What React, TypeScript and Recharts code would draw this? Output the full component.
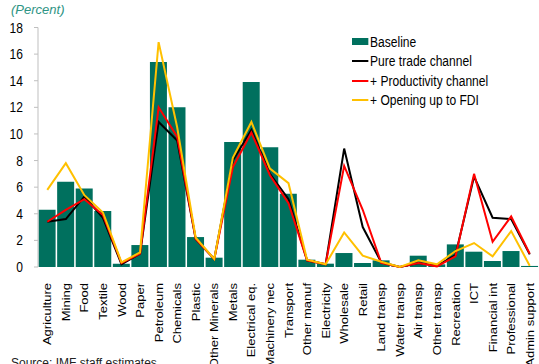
import React from 'react';
import { ComposedChart, Bar, Line, XAxis, YAxis } from 'recharts';

const sectors = [
  'Agriculture', 'Mining', 'Food', 'Textile', 'Wood', 'Paper', 'Petroleum', 'Chemicals',
  'Plastic', 'Other Minerals', 'Metals', 'Electrical eq.', 'Machinery nec', 'Transport',
  'Other manuf', 'Electricity', 'Wholesale', 'Retail', 'Land transp', 'Water transp',
  'Air transp', 'Other transp', 'Recreation', 'ICT', 'Financial int', 'Professional',
  'Admin support',
];

const baseline = [
  4.3, 6.4, 5.9, 4.2, 0.25, 1.65, 15.4, 12.0, 2.25, 0.7, 9.4, 13.9, 9.0, 5.5,
  0.55, 0.25, 1.05, 0.3, 0.5, 0.05, 0.85, 0.2, 1.7, 1.15, 0.45, 1.2, 0.08,
];
const pureTrade = [
  3.4, 3.6, 5.3, 3.7, 0.2, 1.0, 10.9, 9.5, 2.1, 0.6, 8.0, 10.3, 7.0, 5.1,
  0.5, 0.2, 8.9, 3.0, 0.35, 0.0, 0.3, 0.1, 0.9, 6.8, 3.7, 3.6, 0.95,
];
const productivity = [
  3.4, 4.3, 5.1, 3.9, 0.3, 1.0, 12.0, 9.8, 2.1, 0.6, 7.5, 10.1, 6.9, 4.8,
  0.5, 0.2, 7.6, 4.3, 0.3, 0.0, 0.3, 0.05, 0.8, 7.0, 1.9, 3.8, 1.0,
];
const openingFdi = [
  5.8, 7.8, 5.4, 4.1, 0.35, 1.1, 16.9, 10.5, 2.2, 0.6, 8.2, 10.9, 7.4, 6.3,
  0.55, 0.2, 2.6, 0.85, 0.4, 0.0, 0.5, 0.2, 1.2, 1.8, 0.8, 2.7, 0.1,
];
const yTicks = [0, 2, 4, 6, 8, 10, 12, 14, 16, 18];

const TEAL = '#00705E';
const FONT = 'Arial, "Liberation Sans", sans-serif';

const data = sectors.map((name, i) => ({
  name,
  baseline: baseline[i],
  pure: pureTrade[i],
  prod: productivity[i],
  fdi: openingFdi[i],
}));

// rotated labels, squeezed a bit sideways like the original
const XTick = ({ x, y, payload }: any) => (
  <g transform={`translate(${x},${y + 8}) scale(0.86,1) rotate(-90)`}>
    <text x={0} y={0} dy="0.36em" textAnchor="end" fontSize={13} fill="#000" fontFamily={FONT}>
      {payload.value}
    </text>
  </g>
);

const YTick = ({ x, y, payload }: any) => (
  <g transform={`translate(${x - 9},${y}) scale(0.86,1)`}>
    <text x={0} y={0} dy="0.36em" textAnchor="end" fontSize={14} fill="#000" fontFamily={FONT}>
      {payload.value}
    </text>
  </g>
);

const legendItems = [
  { label: 'Baseline', color: TEAL, bar: true },
  { label: 'Pure trade channel', color: '#000000' },
  { label: '+ Productivity channel', color: '#FF0000' },
  { label: '+ Opening up to FDI', color: '#FFC000' },
];

export default function App() {
  return (
    <div style={{ position: 'absolute', left: 0, top: 0, width: 539, height: 364, background: '#fff', overflow: 'hidden', fontFamily: FONT }}>
      <div style={{ position: 'absolute', left: 11, top: 2, fontSize: 13, fontStyle: 'italic', color: '#2E9484' }}>
        (Percent)
      </div>
      <ComposedChart
        width={539}
        height={364}
        data={data}
        margin={{ top: 27.5, right: 0, bottom: 0, left: 8 }}
        barCategoryGap={0.6}
      >
        <XAxis
          dataKey="name"
          interval={0}
          axisLine={false}
          tickLine={false}
          height={97}
          tick={<XTick />}
        />
        <YAxis
          width={30}
          domain={[0, 18]}
          ticks={yTicks}
          interval={0}
          axisLine={{ stroke: '#BFBFBF' }}
          tickLine={{ stroke: '#BFBFBF' }}
          tickSize={4}
          tick={<YTick />}
        />
        <Bar dataKey="baseline" fill={TEAL} isAnimationActive={false} />
        <Line type="linear" dataKey="pure" stroke="#000000" strokeWidth={2} dot={false} isAnimationActive={false} />
        <Line type="linear" dataKey="prod" stroke="#FF0000" strokeWidth={2} dot={false} isAnimationActive={false} />
        <Line type="linear" dataKey="fdi" stroke="#FFC000" strokeWidth={2} dot={false} isAnimationActive={false} />
      </ComposedChart>
      <div style={{ position: 'absolute', left: 352, top: 32, transform: 'scaleX(0.86)', transformOrigin: 'left top' }}>
        {legendItems.map((it) => (
          <div key={it.label} style={{ display: 'flex', alignItems: 'center', height: 19.5, fontSize: 14, color: '#000' }}>
            <span
              style={{
                display: 'inline-block',
                width: 19,
                height: it.bar ? 7 : 2,
                background: it.color,
                marginRight: 2,
              }}
            />
            {it.label}
          </div>
        ))}
      </div>
      <div style={{ position: 'absolute', left: 11, top: 356, fontSize: 12, color: '#222' }}>
        Source: IMF staff estimates.
      </div>
    </div>
  );
}
